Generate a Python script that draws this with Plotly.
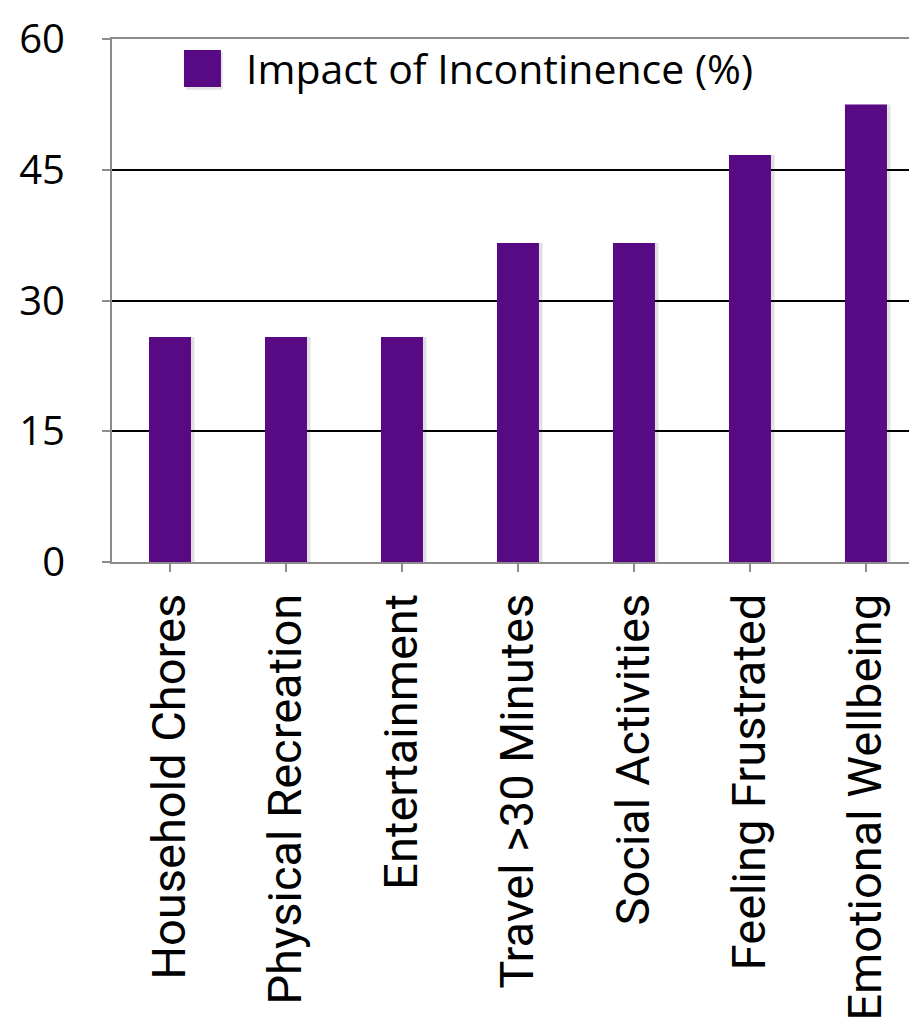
import plotly.graph_objects as go

categories = [
    "Household Chores",
    "Physical Recreation",
    "Entertainment",
    "Travel >30 Minutes",
    "Social Activities",
    "Feeling Frustrated",
    "Emotional Wellbeing",
]
impact_pct = [25.8, 25.8, 25.8, 36.6, 36.6, 46.7, 52.5]
y_ticks = [0, 15, 30, 45, 60]
series_name = "Impact of Incontinence (%)"

BAR = "#580A84"
AXIS = "#8C8C8C"
BAR_W = 0.362

x_pos = list(range(len(categories)))

# soft shadow on the right side of each bar
shadow = go.Bar(
    x=x_pos,
    y=impact_pct,
    width=BAR_W,
    offset=-BAR_W / 2 + 0.03,
    marker=dict(color="rgba(0,0,0,0.12)", line=dict(width=0)),
    hoverinfo="skip",
    showlegend=False,
)

bars = go.Bar(
    x=x_pos,
    y=impact_pct,
    name=series_name,
    width=BAR_W,
    offset=-BAR_W / 2,
    marker=dict(color=BAR, line=dict(width=0)),
    showlegend=False,
)

fig = go.Figure([shadow, bars])

fig.update_layout(
    width=909,
    height=1029,
    margin=dict(l=112, r=0, t=39, b=467),
    paper_bgcolor="white",
    plot_bgcolor="white",
    barmode="overlay",
    font=dict(family="Open Sans", color="black"),
)

fig.update_xaxes(
    range=[-0.5, 6.371],
    tickmode="array",
    tickvals=x_pos,
    ticktext=categories,
    tickangle=-90,
    tickson="boundaries",
    ticks="outside",
    ticklen=8,
    tickwidth=2,
    tickcolor=AXIS,
    ticklabelstandoff=3,
    tickfont=dict(family="Roboto", size=47, color="black"),
    showline=True,
    linecolor=AXIS,
    linewidth=2,
    mirror=True,
    showgrid=False,
    zeroline=False,
)

fig.update_yaxes(
    range=[0, 60],
    tickmode="array",
    tickvals=y_ticks,
    ticktext=[str(v) for v in y_ticks],
    ticks="outside",
    ticklen=8,
    tickwidth=2,
    tickcolor=AXIS,
    ticklabelstandoff=29,
    tickfont=dict(family="Open Sans", size=40, color="black"),
    showline=True,
    linecolor=AXIS,
    linewidth=2,
    showgrid=True,
    gridcolor="black",
    gridwidth=2,
    zeroline=False,
)

# Legend swatch and label drawn in paper coordinates
fig.add_shape(
    type="rect", xref="paper", yref="paper",
    x0=0.0928, x1=0.1392, y0=0.903, y1=0.974,
    fillcolor="rgba(0,0,0,0.10)", line=dict(width=0), layer="above",
)
fig.add_shape(
    type="rect", xref="paper", yref="paper",
    x0=0.0903, x1=0.1367, y0=0.908, y1=0.979,
    fillcolor=BAR, line=dict(width=0), layer="above",
)
fig.add_annotation(
    xref="paper", yref="paper", x=0.166, y=0.9445,
    xanchor="left", yanchor="middle", showarrow=False,
    text=series_name, font=dict(family="Open Sans", size=41, color="black"),
)

fig.write_html("out.html")
